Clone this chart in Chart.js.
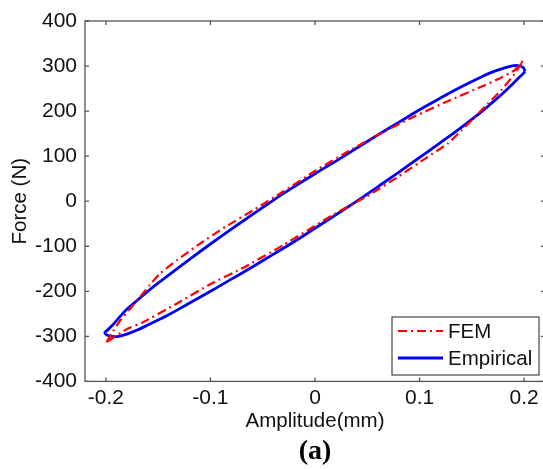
<!DOCTYPE html>
<html><head><meta charset="utf-8">
<script src="https://cdn.jsdelivr.net/npm/chart.js@4"></script>
<style>
html,body{margin:0;padding:0;background:#fff;overflow:hidden}
#wrap{position:absolute;left:0;top:0;width:550px;height:469px}
</style>
</head><body>
<div id="wrap"><canvas id="c" width="550" height="469"></canvas></div>
<script>
// Tick labels
const xTicks = [-0.2, -0.1, 0, 0.1, 0.2];
const yTicks = [-400, -300, -200, -100, 0, 100, 200, 300, 400];

// FEM loop (upper branch left->right, then lower branch right->left)
const femX = [-0.1995, -0.193, -0.186, -0.178, -0.170, -0.158, -0.148, -0.132, -0.110, -0.085, -0.059, -0.030, 0.000, 0.032, 0.064, 0.096, 0.127, 0.159, 0.178, 0.191, 0.199,
              0.191, 0.178, 0.165, 0.153, 0.140, 0.127, 0.105, 0.080, 0.049, 0.018, -0.030, -0.068, -0.100, -0.132, -0.164, -0.180, -0.1995];
const femY = [-313, -288, -264, -242, -220, -186, -160, -131, -94, -56, -20, 22, 67, 111, 152, 189, 222, 254, 274, 291, 312,
              283, 246, 216, 187, 157, 128, 94, 55, 10, -29, -97, -147, -184, -227, -268, -284, -313];

// Empirical loop (upper branch right->left, then lower branch left->right)
const empX = [0.201, 0.199, 0.194, 0.188, 0.180, 0.170, 0.160, 0.140, 0.120, 0.100, 0.080, 0.060, 0.040, 0.020, 0.000, -0.020, -0.040, -0.060, -0.080, -0.100, -0.120, -0.140, -0.160, -0.170, -0.180, -0.188, -0.194, -0.199, -0.201,
              -0.199, -0.194, -0.188, -0.180, -0.170, -0.160, -0.140, -0.120, -0.100, -0.080, -0.060, -0.040, -0.020, 0.000, 0.020, 0.040, 0.060, 0.080, 0.100, 0.120, 0.140, 0.160, 0.170, 0.180, 0.188, 0.194, 0.199, 0.201];
const empY = [288, 297, 301, 300, 295, 287, 277, 254, 229, 203, 175, 147, 118, 89, 61, 32, 2, -30, -62, -95, -129, -164, -200, -220, -240, -260, -276, -287, -292,
              -297, -300, -300, -295, -286, -275, -252, -226, -200, -173, -146, -118, -90, -60, -30, 0, 32, 64, 97, 130, 164, 200, 220, 240, 258, 272, 283, 288];

const FONT = "'Liberation Sans', Arial, sans-serif";
const toPts = (xs, ys) => xs.map((x, i) => ({x: x, y: ys[i]}));

const framePlugin = {
  id: 'frame',
  afterDatasetsDraw(chart) {
    const {ctx, chartArea: a, scales: {x, y}} = chart;
    ctx.save();
    ctx.strokeStyle = '#555';
    ctx.lineWidth = 1.3;
    ctx.strokeRect(a.left, a.top, a.right - a.left, a.bottom - a.top);
    ctx.beginPath();
    const L = 4;
    xTicks.forEach(v => {
      const px = x.getPixelForValue(v);
      ctx.moveTo(px, a.bottom); ctx.lineTo(px, a.bottom - L);
      ctx.moveTo(px, a.top); ctx.lineTo(px, a.top + L);
    });
    yTicks.forEach(v => {
      const py = y.getPixelForValue(v);
      ctx.moveTo(a.left, py); ctx.lineTo(a.left + L, py);
      ctx.moveTo(a.right, py); ctx.lineTo(a.right - L, py);
    });
    ctx.stroke();
    ctx.restore();
  }
};

const legendPlugin = {
  id: 'boxLegend',
  afterDraw(chart) {
    const ctx = chart.ctx;
    const ds = chart.data.datasets;
    const bx = 392, by = 317, bw = 147, bh = 58;
    ctx.save();
    ctx.fillStyle = '#fff';
    ctx.fillRect(bx, by, bw, bh);
    ctx.strokeStyle = '#444';
    ctx.lineWidth = 1.2;
    ctx.strokeRect(bx, by, bw, bh);
    const rows = [331, 358];
    ds.forEach((d, i) => {
      const yy = rows[i];
      ctx.beginPath();
      ctx.strokeStyle = d.borderColor;
      ctx.lineWidth = d.borderWidth;
      ctx.setLineDash(d.borderDash || []);
      ctx.moveTo(398, yy); ctx.lineTo(443, yy);
      ctx.stroke();
      ctx.setLineDash([]);
      ctx.fillStyle = '#111';
      ctx.font = '20.5px ' + FONT;
      ctx.textBaseline = 'middle';
      ctx.textAlign = 'left';
      ctx.fillText(d.label, 448, yy + 1);
    });
    ctx.restore();
  }
};

new Chart(document.getElementById('c'), {
  type: 'scatter',
  data: {
    datasets: [
      {label: 'FEM', data: toPts(femX, femY), showLine: true, borderColor: '#ff0000', borderWidth: 2.2,
       borderDash: [9, 4, 2, 4], pointRadius: 0, tension: 0.15, fill: false, order: 0},
      {label: 'Empirical', data: toPts(empX, empY), showLine: true, borderColor: '#0000ff', borderWidth: 2.8,
       pointRadius: 0, tension: 0.4, fill: false, order: 1}
    ]
  },
  options: {
    responsive: false,
    animation: false,
    devicePixelRatio: 1,
    layout: {padding: {left: 0, top: 21, right: 5, bottom: 0}},
    plugins: {
      legend: {display: false},
      tooltip: {enabled: false},
      title: {display: true, text: '(a)', position: 'bottom', fullSize: false,
              font: {family: "'Liberation Serif', 'Times New Roman', serif", size: 28, weight: 'bold'},
              color: '#000', padding: {top: 0, bottom: 0}}
    },
    scales: {
      x: {
        type: 'linear', min: -0.22, max: 0.22,
        afterBuildTicks: s => { s.ticks = xTicks.map(v => ({value: v})); },
        afterFit: s => { s.height = 54; },
        grid: {display: false, drawTicks: false},
        border: {display: false},
        ticks: {autoSkip: false, maxRotation: 0, padding: 4, color: '#111',
                font: {family: FONT, size: 21}, callback: v => String(v)},
        title: {display: true, text: 'Amplitude(mm)', color: '#111',
                font: {family: FONT, size: 20.5}, padding: {top: 0, bottom: 2}}
      },
      y: {
        type: 'linear', min: -400, max: 400,
        afterBuildTicks: s => { s.ticks = yTicks.map(v => ({value: v})); },
        afterFit: s => { s.width = 85; },
        grid: {display: false, drawTicks: false},
        border: {display: false},
        ticks: {autoSkip: false, padding: 8, color: '#111',
                font: {family: FONT, size: 21}, callback: v => String(v)},
        title: {display: true, text: 'Force (N)', color: '#111',
                font: {family: FONT, size: 20.5}, padding: {top: 8, bottom: 0}}
      }
    }
  },
  plugins: [framePlugin, legendPlugin]
});
</script>
</body></html>
